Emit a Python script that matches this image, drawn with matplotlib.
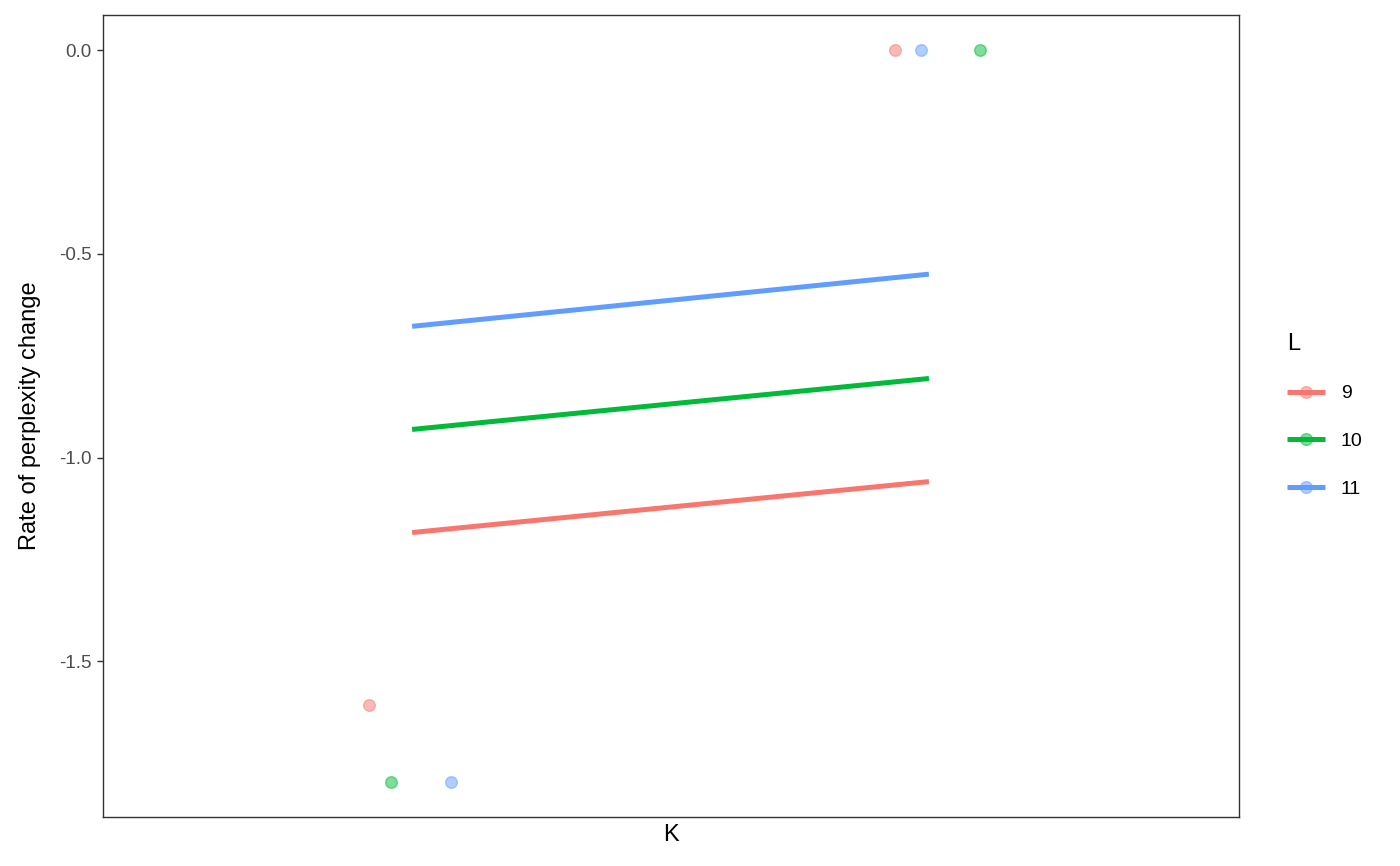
import matplotlib
matplotlib.use("Agg")
import matplotlib.pyplot as plt
from matplotlib.lines import Line2D

plt.rcParams['font.family'] = ['Liberation Sans', 'DejaVu Sans']

# Data
groups = ["9", "10", "11"]
colors = ["#F8766D", "#00BA38", "#619CFF"]
# jittered points (x in K units, y rate)
pt_x = {"9": [-0.083, 0.934], "10": [-0.041, 1.099], "11": [0.075, 0.985]}
pt_y = {"9": [-1.607, 0.0], "10": [-1.796, 0.0], "11": [-1.796, 0.0]}
# fitted lines
line_x = [0.0, 1.0]
line_y = {"9": [-1.184, -1.059], "10": [-0.931, -0.806], "11": [-0.678, -0.550]}
yticks = [0.0, -0.5, -1.0, -1.5]
ytick_labels = ["0.0", "-0.5", "-1.0", "-1.5"]

fig = plt.figure(figsize=(14, 8.66), dpi=100)
ax = fig.add_axes([0.0736, 0.0566, 0.8114, 0.9261])

for g, c in zip(groups, colors):
    ax.scatter(pt_x[g], pt_y[g], s=70, color=c, alpha=0.5, edgecolors=c,
               linewidths=1.0, zorder=3)
for g, c in zip(groups, colors):
    ax.plot(line_x, line_y[g], color=c, lw=3.6, solid_capstyle='butt', zorder=2)

ax.set_xlim(-0.598, 1.600)
ax.set_ylim(-1.882, 0.086)
ax.set_xticks([])
ax.set_yticks(yticks)
ax.set_yticklabels(ytick_labels)
ax.tick_params(axis='y', colors='#333333', labelcolor='#4D4D4D', labelsize=13.5,
               length=4, width=1, pad=4)
for sp in ax.spines.values():
    sp.set_color('#333333')
    sp.set_linewidth(1.0)
ax.set_xlabel("K", fontsize=17, labelpad=5)
ax.set_ylabel("Rate of perplexity change", fontsize=17, labelpad=13)

handles = [Line2D([0], [0], color=c, lw=3.6, solid_capstyle='butt') for c in colors]
mhandles = [Line2D([0], [0], color=c, lw=0, marker='o', markersize=8.5,
                   markerfacecolor=c, markeredgecolor=c, alpha=0.5) for c in colors]
leg = fig.legend(list(zip(handles, mhandles)), groups, title="L", loc='upper left',
                 bbox_to_anchor=(0.907, 0.636), frameon=False, fontsize=14,
                 title_fontsize=17, handlelength=1.95, labelspacing=1.55,
                 handletextpad=0.8, alignment='left')
fig.savefig("out.png", dpi=100)
